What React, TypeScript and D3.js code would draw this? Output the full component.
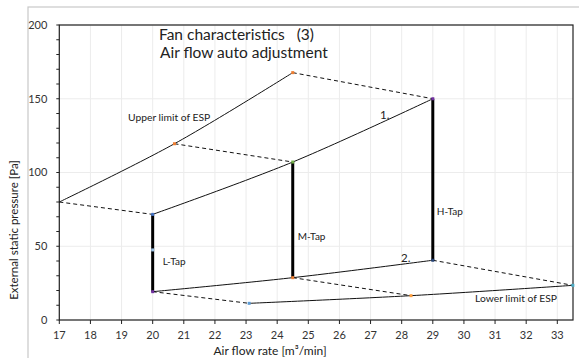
import React from 'react';
import * as d3 from 'd3';

// upper limit of ESP (solid curve) and its points
const upperX = [17, 20.7, 24.5];
const upperY = [80, 119.5, 167.7];
// curve 1 (tap tops)
const topX = [20, 24.5, 29];
const topY = [71.6, 107.1, 150];
// curve 2 (tap bottoms)
const bottomX = [20, 24.5, 29];
const bottomY = [19.2, 28.7, 40.5];
// lower limit of ESP
const lowerX = [23.1, 28.3, 33.5];
const lowerY = [11.3, 16.5, 23.5];
const tapNames = ['L-Tap', 'M-Tap', 'H-Tap'];
const tapMid = [47.5];

const xTicks = d3.range(17, 34, 1);
const yTicks = [0, 50, 100, 150, 200];
const yMinor = d3.range(0, 201, 10);

const W = 579;
const H = 358;
const m = { left: 59.3, right: 573, top: 25, bottom: 320 };
const font = 'Lato, Calibri, sans-serif';

const App: React.FC = () => {
  const x = d3.scaleLinear().domain([17, 33.5]).range([m.left, m.left + 16.5 * 31.125]);
  const y = d3.scaleLinear().domain([0, 200]).range([m.bottom, m.top]);

  const zip = (xs: number[], ys: number[]) => xs.map((v, i) => [v, ys[i]] as [number, number]);
  const smooth = d3.line<[number, number]>().x(d => x(d[0])).y(d => y(d[1])).curve(d3.curveCatmullRom);
  const straight = d3.line<[number, number]>().x(d => x(d[0])).y(d => y(d[1]));

  const upper = zip(upperX, upperY);
  const top = zip(topX, topY);
  const bottom = zip(bottomX, bottomY);
  const lower = zip(lowerX, lowerY);

  const dashes: [number, number][][] = [
    ...upper.map((p, i) => [p, top[i]]),
    ...bottom.map((p, i) => [p, lower[i]]),
  ];

  const markers: { p: [number, number]; c: string }[] = [
    ...upper.slice(1).map(p => ({ p, c: '#ed7d31' })),
    { p: top[0], c: '#4472c4' },
    { p: top[1], c: '#70ad47' },
    { p: top[2], c: '#7030a0' },
    { p: bottom[0], c: '#7030a0' },
    { p: bottom[1], c: '#ed7d31' },
    { p: bottom[2], c: '#264478' },
    { p: lower[0], c: '#5b9bd5' },
    { p: lower[1], c: '#ffa040' },
    { p: lower[2], c: '#4bacc6' },
    { p: [topX[0], tapMid[0]], c: '#9dc3e6' },
  ];

  return (
    <svg width={W} height={H} style={{ position: 'absolute', left: 0, top: 0, background: '#fff' }} fontFamily={font}>
      {/* chart area frame */}
      <rect x={28} y={7} width={W} height={H} fill="none" stroke="#c8c8c8" strokeWidth={1.2} />

      {/* grid */}
      {xTicks.map(t => (
        <line key={'gx' + t} x1={x(t)} x2={x(t)} y1={m.top} y2={m.bottom} stroke="#ececec" />
      ))}
      {yTicks.map(t => (
        <line key={'gy' + t} x1={m.left} x2={m.right} y1={y(t)} y2={y(t)} stroke="#ececec" />
      ))}

      {/* plot border */}
      <rect x={m.left} y={m.top} width={m.right - m.left} height={m.bottom - m.top} fill="none" stroke="#222" strokeWidth={1.2} />

      {/* ticks */}
      {yMinor.map(t => (
        <line key={'ty' + t} x1={m.left - 3} x2={m.left} y1={y(t)} y2={y(t)} stroke="#222" />
      ))}
      {xTicks.map(t => (
        <line key={'tx' + t} x1={x(t)} x2={x(t)} y1={m.bottom} y2={m.bottom + 4} stroke="#222" />
      ))}
      {yTicks.map(t => (
        <text key={'ly' + t} x={m.left - 12} y={y(t)} dy="0.35em" textAnchor="end" fontSize={11} fill="#333">{t}</text>
      ))}
      {xTicks.map(t => (
        <text key={'lx' + t} x={x(t)} y={m.bottom + 15} dy="0.35em" textAnchor="middle" fontSize={11} fill="#333">{t}</text>
      ))}

      {/* axis titles */}
      <text x={270} y={351} dy="0.35em" textAnchor="middle" fontSize={12} fill="#222">Air flow rate [m³/min]</text>
      <text transform="translate(14,230) rotate(-90)" dy="0.35em" textAnchor="middle" fontSize={11.5} fill="#222">External static pressure [Pa]</text>

      {/* dashed connectors */}
      {dashes.map((d, i) => (
        <path key={'d' + i} d={straight(d) || ''} fill="none" stroke="#111" strokeWidth={1} strokeDasharray="4,3" />
      ))}

      {/* solid curves */}
      {[upper, top, bottom, lower].map((s, i) => (
        <path key={'s' + i} d={smooth(s) || ''} fill="none" stroke="#111" strokeWidth={1} />
      ))}

      {/* taps */}
      {topX.map((v, i) => (
        <line key={'tap' + i} x1={x(v)} x2={x(v)} y1={y(topY[i])} y2={y(bottomY[i])} stroke="#000" strokeWidth={3} />
      ))}

      {/* markers */}
      {markers.map((mk, i) => (
        <rect key={'m' + i} x={x(mk.p[0]) - 1.5} y={y(mk.p[1]) - 1.5} width={3} height={3} fill={mk.c} />
      ))}

      {/* labels */}
      <text x={159} y={35} dy="0.35em" fontSize={15.5} fill="#222" style={{ whiteSpace: 'pre' }}>{'Fan characteristics   (3)'}</text>
      <text x={160} y={53} dy="0.35em" fontSize={15.5} fill="#222">Air flow auto adjustment</text>
      <text x={128} y={117} dy="0.35em" fontSize={10.3} fill="#222">Upper limit of ESP</text>
      <text x={380} y={115} dy="0.35em" fontSize={11.5} fill="#222">1.</text>
      <text x={401} y={258} dy="0.35em" fontSize={11.5} fill="#222">2.</text>
      <text x={x(topX[0]) + 10} y={261} dy="0.35em" fontSize={10} fill="#222">{tapNames[0]}</text>
      <text x={x(topX[1]) + 5} y={236} dy="0.35em" fontSize={10} fill="#222">{tapNames[1]}</text>
      <text x={x(topX[2]) + 4} y={211} dy="0.35em" fontSize={10} fill="#222">{tapNames[2]}</text>
      <text x={475} y={298} dy="0.35em" fontSize={10.3} fill="#222">Lower limit of ESP</text>
    </svg>
  );
};

export default App;
